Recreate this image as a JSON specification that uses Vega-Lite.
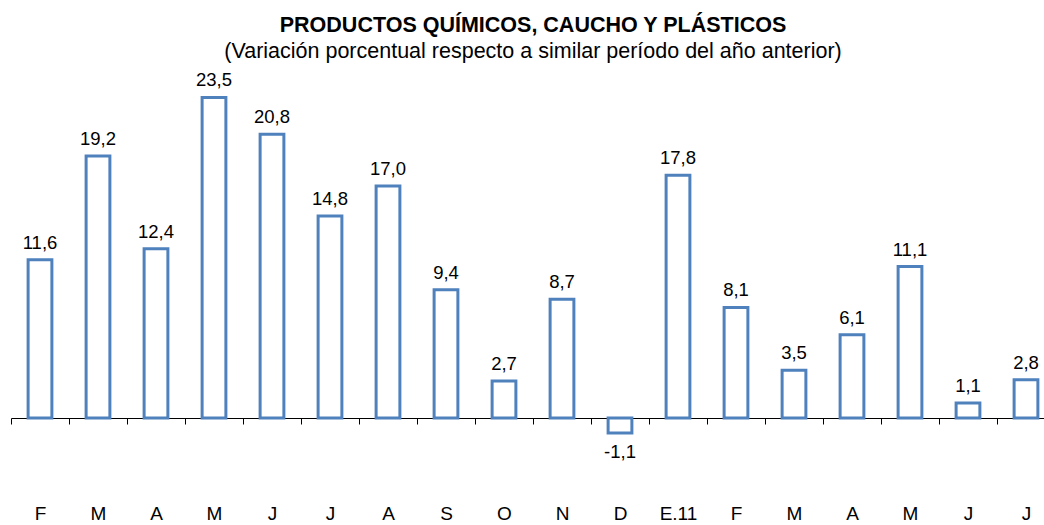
{
  "$schema": "https://vega.github.io/schema/vega-lite/v6.json",
  "width": 1044,
  "height": 375,
  "autosize": {"type": "none"},
  "padding": {"left": 11, "top": 77, "right": 0, "bottom": 73},
  "background": "white",
  "title": {
    "text": "PRODUCTOS QUÍMICOS, CAUCHO Y PLÁSTICOS",
    "subtitle": "(Variación porcentual respecto a similar período del año anterior)",
    "anchor": "middle",
    "font": "Liberation Sans",
    "fontSize": 21.5,
    "fontWeight": "bold",
    "color": "#000000",
    "subtitleFont": "Liberation Sans",
    "subtitleFontSize": 21.5,
    "subtitleColor": "#000000",
    "subtitlePadding": 4,
    "offset": 9
  },
  "config": {
    "view": {"stroke": null},
    "locale": {"number": {"decimal": ",", "thousands": ".", "grouping": [3], "currency": ["", ""], "minus": "-"}}
  },
  "data": {
    "values": [
      {"mes": "F|2010-02", "valor": 11.6},
      {"mes": "M|2010-03", "valor": 19.2},
      {"mes": "A|2010-04", "valor": 12.4},
      {"mes": "M|2010-05", "valor": 23.5},
      {"mes": "J|2010-06", "valor": 20.8},
      {"mes": "J|2010-07", "valor": 14.8},
      {"mes": "A|2010-08", "valor": 17.0},
      {"mes": "S|2010-09", "valor": 9.4},
      {"mes": "O|2010-10", "valor": 2.7},
      {"mes": "N|2010-11", "valor": 8.7},
      {"mes": "D|2010-12", "valor": -1.1},
      {"mes": "E.11|2011-01", "valor": 17.8},
      {"mes": "F|2011-02", "valor": 8.1},
      {"mes": "M|2011-03", "valor": 3.5},
      {"mes": "A|2011-04", "valor": 6.1},
      {"mes": "M|2011-05", "valor": 11.1},
      {"mes": "J|2011-06", "valor": 1.1},
      {"mes": "J|2011-07", "valor": 2.8}
    ]
  },
  "encoding": {
    "x": {
      "field": "mes",
      "type": "nominal",
      "sort": null,
      "scale": {"paddingInner": 0, "paddingOuter": 0},
      "axis": {
        "title": null,
        "orient": "bottom",
        "offset": -34,
        "labelAngle": 0,
        "labelExpr": "isString(datum.value) ? split(datum.value, '|')[0] : ''",
        "labelFont": "Liberation Sans",
        "labelFontSize": 19,
        "labelColor": "#000000",
        "labelPadding": 80,
        "tickBand": "extent",
        "tickSize": 6,
        "tickColor": "#000000",
        "domainColor": "#000000",
        "domainWidth": 1,
        "grid": false
      }
    },
    "y": {
      "field": "valor",
      "type": "quantitative",
      "scale": {"domain": [-2.5, 25], "nice": false, "zero": false},
      "axis": null
    }
  },
  "layer": [
    {
      "mark": {"type": "bar", "width": {"band": 0.41}, "fill": "white", "stroke": "#4F81BD", "strokeWidth": 3, "clip": false},
      "encoding": {
        "y2": {"datum": 0}
      }
    },
    {
      "transform": [{"filter": "datum.valor >= 0"}],
      "mark": {"type": "text", "baseline": "bottom", "dy": -7, "font": "Liberation Sans", "fontSize": 18.5, "color": "#000000"},
      "encoding": {"text": {"field": "valor", "type": "quantitative", "format": ".1f"}}
    },
    {
      "transform": [{"filter": "datum.valor < 0"}],
      "mark": {"type": "text", "baseline": "top", "dy": 10, "font": "Liberation Sans", "fontSize": 18.5, "color": "#000000"},
      "encoding": {"text": {"field": "valor", "type": "quantitative", "format": ".1f"}}
    }
  ]
}
